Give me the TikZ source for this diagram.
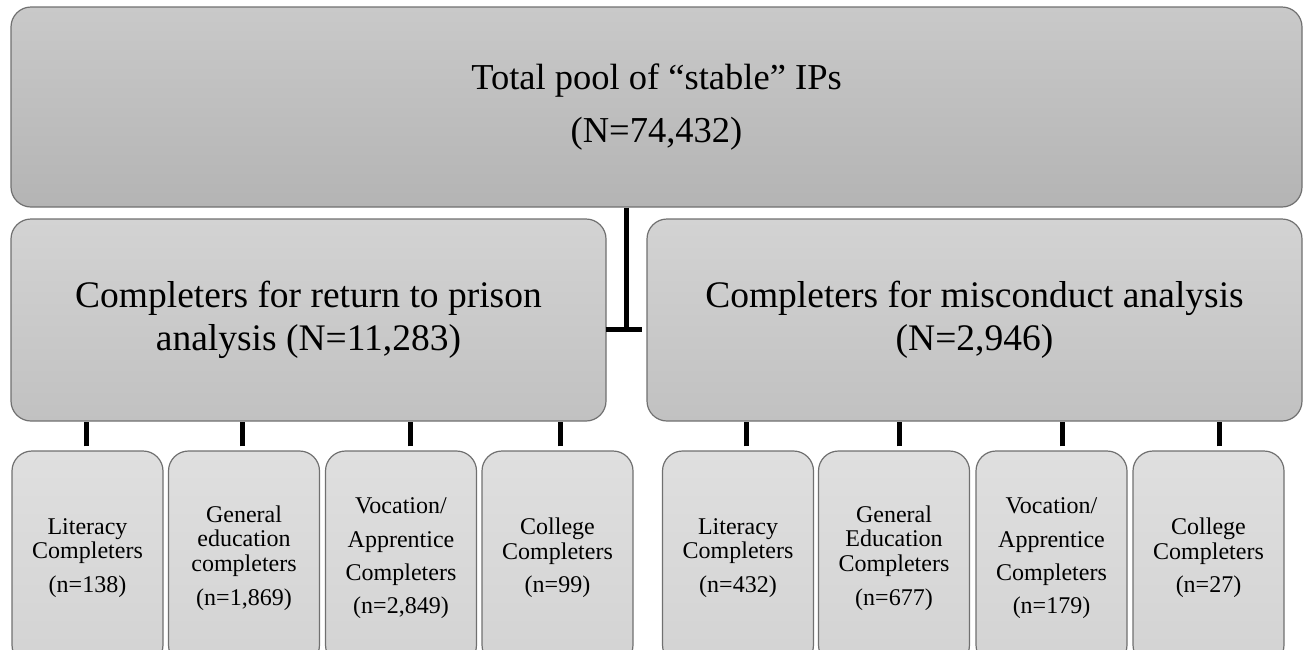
\documentclass[tikz,border=0pt]{standalone}
\usepackage{fontspec}
\setmainfont{Liberation Serif}
\usetikzlibrary{calc,positioning}
\definecolor{boxline}{HTML}{707070}
\definecolor{topA}{HTML}{C9C9C9}
\definecolor{topB}{HTML}{B4B4B4}
\definecolor{midA}{HTML}{D3D3D3}
\definecolor{midB}{HTML}{C1C1C1}
\definecolor{leafA}{HTML}{DFDFDF}
\definecolor{leafB}{HTML}{D3D3D3}
\tikzset{
    box/.style={draw=boxline, line width=1.2pt, rounded corners=20pt,
        align=center, inner sep=0pt},
    poolbox/.style={box, top color=topA, bottom color=topB,
        minimum width=1291pt, minimum height=200pt,
        font=\fontsize{36.5}{42}\selectfont},
    groupbox/.style={box, top color=midA, bottom color=midB,
        minimum height=202pt, font=\fontsize{37.5}{43}\selectfont},
    leafbox/.style={box, top color=leafA, bottom color=leafB,
        minimum width=151pt, minimum height=214pt,
        font=\fontsize{24}{24.5}\selectfont},
    link/.style={line width=5pt, black}
}
\begin{document}
\begin{tikzpicture}[x=1pt, y=-1pt]
    \path[use as bounding box, clip] (0, 0) rectangle (1307, 649);
    % top
    \node[poolbox] (pool) at (656.5, 107)
        {Total pool of “stable” IPs\\[11pt](N=74,432)};
    % groups
    \node[groupbox, minimum width=595pt] (prison) at (308.5, 320)
        {Completers for return to prison\\analysis (N=11,283)};
    \node[groupbox, minimum width=655pt] (miscon) at (974.5, 320)
        {Completers for misconduct analysis\\(N=2,946)};
    % leaves, return to prison
    \node[leafbox] (litP) at (87.5, 558)
        {Literacy\\Completers\\[9pt](n=138)};
    \node[leafbox] (genP) at (244, 558)
        {General\\education\\completers\\[10pt](n=1,869)};
    \node[leafbox] (vocP) at (401, 558)
        {Vocation/\\[9pt]Apprentice\\[9pt]Completers\\[8pt](n=2,849)};
    \node[leafbox] (colP) at (557.5, 558)
        {College\\Completers\\[9pt](n=99)};
    % leaves, misconduct
    \node[leafbox] (litM) at (738, 558)
        {Literacy\\Completers\\[9pt](n=432)};
    \node[leafbox] (genM) at (894, 558)
        {General\\Education\\Completers\\[10pt](n=677)};
    \node[leafbox] (vocM) at (1051.5, 558)
        {Vocation/\\[9pt]Apprentice\\[9pt]Completers\\[8pt](n=179)};
    \node[leafbox] (colM) at (1208.5, 558)
        {College\\Completers\\[9pt](n=27)};
    % connectors
    \coordinate (hub) at ($(prison.east)!0.5!(miscon.west) + (0, 9)$);
    \draw[link] (hub |- pool.south) -- (hub);
    \draw[link] ([xshift=-1pt]prison.east |- hub) -- ([xshift=-4pt]miscon.west |- hub);
    \foreach \leaf/\dx in {litP/-1, genP/-2, vocP/9, colP/3} {
        \draw[link] ([xshift=\dx pt, yshift=4pt]\leaf.north) -- ([xshift=\dx pt]\leaf.north |- prison.south);
    }
    \foreach \leaf/\dx in {litM/8, genM/5, vocM/11, colM/11} {
        \draw[link] ([xshift=\dx pt, yshift=4pt]\leaf.north) -- ([xshift=\dx pt]\leaf.north |- miscon.south);
    }
\end{tikzpicture}
\end{document}
